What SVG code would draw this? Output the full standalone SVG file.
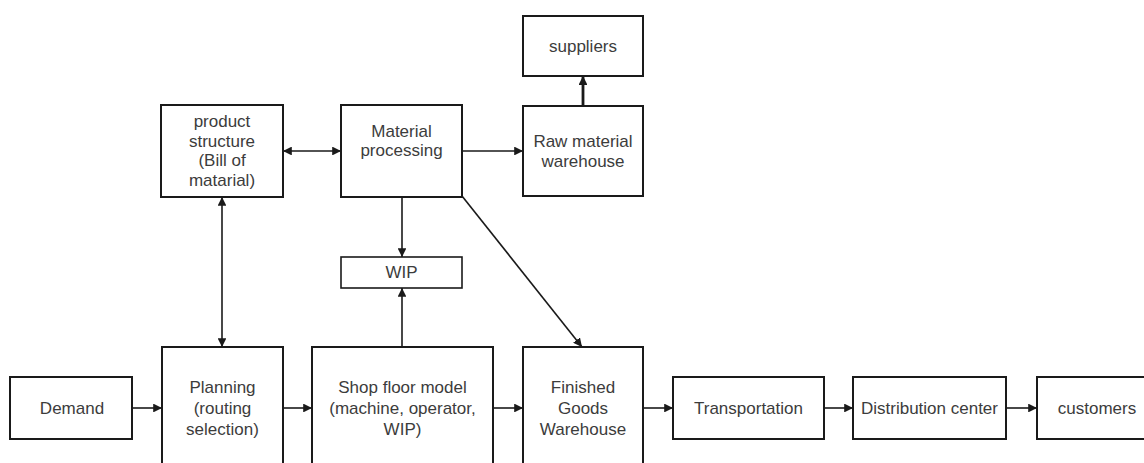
<svg xmlns="http://www.w3.org/2000/svg" width="1144" height="463" viewBox="0 0 1144 463">
<style>
.box{fill:#fff;stroke:#1a1a1a;stroke-width:2}
.t{font-family:"Liberation Sans",Arial,sans-serif;font-size:17px;fill:#3c3c3c;text-anchor:middle}
.c{fill:none;stroke:#1a1a1a;stroke-width:1.6}
</style>
<defs>
<marker id="ah" viewBox="0 0 10 10" refX="10" refY="5" markerWidth="5.5" markerHeight="5.5" orient="auto-start-reverse" markerUnits="strokeWidth">
<path d="M0,0 L10,5 L0,10 z" fill="#1a1a1a"/>
</marker>
<marker id="ah2" viewBox="0 0 10 10" refX="10" refY="5" markerWidth="3.2" markerHeight="3.2" orient="auto" markerUnits="strokeWidth">
<path d="M0,0 L10,5 L0,10 z" fill="#1a1a1a"/>
</marker>
</defs>
<rect width="1144" height="463" fill="#fff"/>
<g id="connectors">
<line class="c" x1="283" y1="151" x2="341" y2="151" marker-start="url(#ah)" marker-end="url(#ah)"/>
<line class="c" x1="462" y1="151" x2="523" y2="151" marker-end="url(#ah)"/>
<line class="c" x1="583" y1="106" x2="583" y2="76" style="stroke-width:2.8" marker-end="url(#ah2)"/>
<line class="c" x1="222" y1="197" x2="222" y2="347" marker-start="url(#ah)" marker-end="url(#ah)"/>
<line class="c" x1="402" y1="197" x2="402" y2="257" marker-end="url(#ah)"/>
<line class="c" x1="402" y1="347" x2="402" y2="288" marker-end="url(#ah)"/>
<line class="c" x1="462" y1="196" x2="582" y2="347" marker-end="url(#ah)"/>
<line class="c" x1="132" y1="408" x2="162" y2="408" marker-end="url(#ah)"/>
<line class="c" x1="283" y1="408" x2="312" y2="408" marker-end="url(#ah)"/>
<line class="c" x1="493" y1="408" x2="523" y2="408" marker-end="url(#ah)"/>
<line class="c" x1="643" y1="408" x2="673" y2="408" marker-end="url(#ah)"/>
<line class="c" x1="824" y1="408" x2="853" y2="408" marker-end="url(#ah)"/>
<line class="c" x1="1006" y1="408" x2="1037" y2="408" marker-end="url(#ah)"/>
</g>
<g id="suppliers">
<rect class="box" x="523" y="16" width="120" height="60"/>
<text class="t" x="583" y="52">suppliers</text>
</g>
<g id="product-structure">
<rect class="box" x="161" y="105" width="122" height="92"/>
<text class="t" x="222" y="127">product</text>
<text class="t" x="222" y="147">structure</text>
<text class="t" x="222" y="166">(Bill of</text>
<text class="t" x="222" y="186">matarial)</text>
</g>
<g id="material-processing">
<rect class="box" x="341" y="105" width="121" height="92"/>
<text class="t" x="401.5" y="137">Material</text>
<text class="t" x="401.5" y="156">processing</text>
</g>
<g id="raw-material-warehouse">
<rect class="box" x="523" y="106" width="120" height="90"/>
<text class="t" x="583" y="147">Raw material</text>
<text class="t" x="583" y="167">warehouse</text>
</g>
<g id="wip">
<rect class="box" x="341" y="257" width="121" height="31" style="stroke-width:1.6"/>
<text class="t" x="401.5" y="278">WIP</text>
</g>
<g id="demand">
<rect class="box" x="10" y="377" width="122" height="62"/>
<text class="t" x="72" y="414">Demand</text>
</g>
<g id="planning">
<rect class="box" x="162" y="347" width="121" height="130"/>
<text class="t" x="222.5" y="393">Planning</text>
<text class="t" x="222.5" y="414">(routing</text>
<text class="t" x="222.5" y="435">selection)</text>
</g>
<g id="shop-floor-model">
<rect class="box" x="312" y="347" width="181" height="130"/>
<text class="t" x="402.5" y="393">Shop floor model</text>
<text class="t" x="402.5" y="414">(machine, operator,</text>
<text class="t" x="402.5" y="435">WIP)</text>
</g>
<g id="finished-goods-warehouse">
<rect class="box" x="523" y="347" width="120" height="130"/>
<text class="t" x="583" y="393">Finished</text>
<text class="t" x="583" y="414">Goods</text>
<text class="t" x="583" y="435">Warehouse</text>
</g>
<g id="transportation">
<rect class="box" x="673" y="377" width="151" height="62"/>
<text class="t" x="748.5" y="414">Transportation</text>
</g>
<g id="distribution-center">
<rect class="box" x="853" y="377" width="153" height="62"/>
<text class="t" x="929.5" y="414">Distribution center</text>
</g>
<g id="customers">
<rect class="box" x="1037" y="377" width="130" height="62"/>
<text class="t" x="1097" y="414">customers</text>
</g>
</svg>
